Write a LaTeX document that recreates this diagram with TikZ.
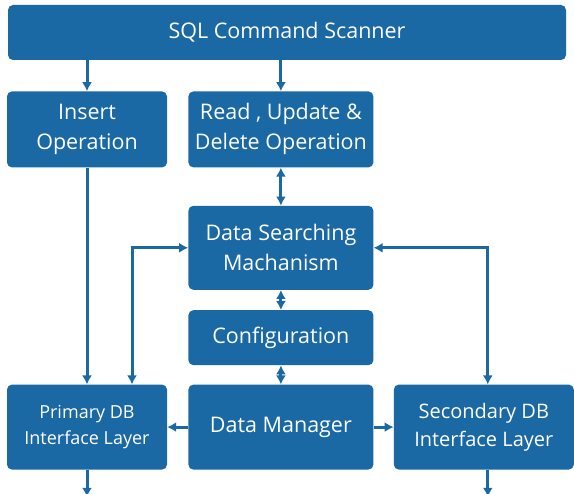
\documentclass[tikz,border=0pt]{standalone}
\usepackage{fontspec}
\setmainfont{Open Sans}
\usepackage{xcolor}
\definecolor{boxblue}{RGB}{26, 104, 164}
\usepackage{tikz}
\usetikzlibrary{arrows.meta, positioning, calc}

\begin{document}
\begin{tikzpicture}[x=1pt, y=1pt,
        block/.style={rectangle, fill=boxblue, rounded corners=5pt, text=white, align=center, inner sep=0pt, minimum width=185pt, font=\fontsize{21.5}{30}\selectfont},
        line/.style={draw=boxblue, line width=3pt, -{Latex[length=9pt, width=10pt]}},
        both/.style={line, {Latex[length=9pt, width=10pt]}-{Latex[length=9pt, width=10pt]}}]

        \useasboundingbox (0,0) rectangle (574,-494);

        \node [block, minimum width=558pt, minimum height=55pt] (scanner) at (287,-32.5) {SQL Command Scanner};
        \node [block, minimum width=160pt, minimum height=76pt, anchor=north west] (insert) at ([shift={(-1,-31)}]scanner.south west) {Insert\\Operation};
        \node [block, minimum height=76pt, right=21pt of insert] (rud) {Read , Update \&\\Delete Operation};
        \node [block, minimum height=84pt, below=38pt of rud] (search) {Data Searching\\Machanism};
        \node [block, minimum height=55pt, below=20pt of search] (config) {Configuration};
        \node [block, minimum height=85pt, below=19pt of config] (manager) {Data Manager};
        \node [block, minimum width=160pt, minimum height=85pt, left=21pt of manager, font=\fontsize{18}{26}\selectfont] (primary) {Primary DB\\Interface Layer};
        \node [block, minimum width=180pt, minimum height=85pt, right=20pt of manager, font=\fontsize{20}{28}\selectfont] (secondary) {Secondary DB\\Interface Layer};

        \coordinate (pout) at ([yshift=-27pt]primary.south);
        \coordinate (sout) at ([yshift=-27pt]secondary.south);

        \path [line] (scanner.south -| insert.north) -- (insert.north);
        \path [line] (scanner.south -| rud.north) -- (rud.north);
        \path [both] (rud) -- (search);
        \path [line] (insert) -- (primary);
        \path [both] ([xshift=45pt]primary.north) |- (search.west);
        \path [both] ([xshift=4pt]secondary.north) |- (search.east);
        \path [both] (search) -- (config);
        \path [both] (config) -- (manager);
        \path [line] (manager) -- (primary);
        \path [line] (manager) -- (secondary);
        \path [line] (primary) -- (pout);
        \path [line] ([xshift=4pt]secondary.south) -- ([xshift=4pt]sout);
    \end{tikzpicture}
\end{document}
